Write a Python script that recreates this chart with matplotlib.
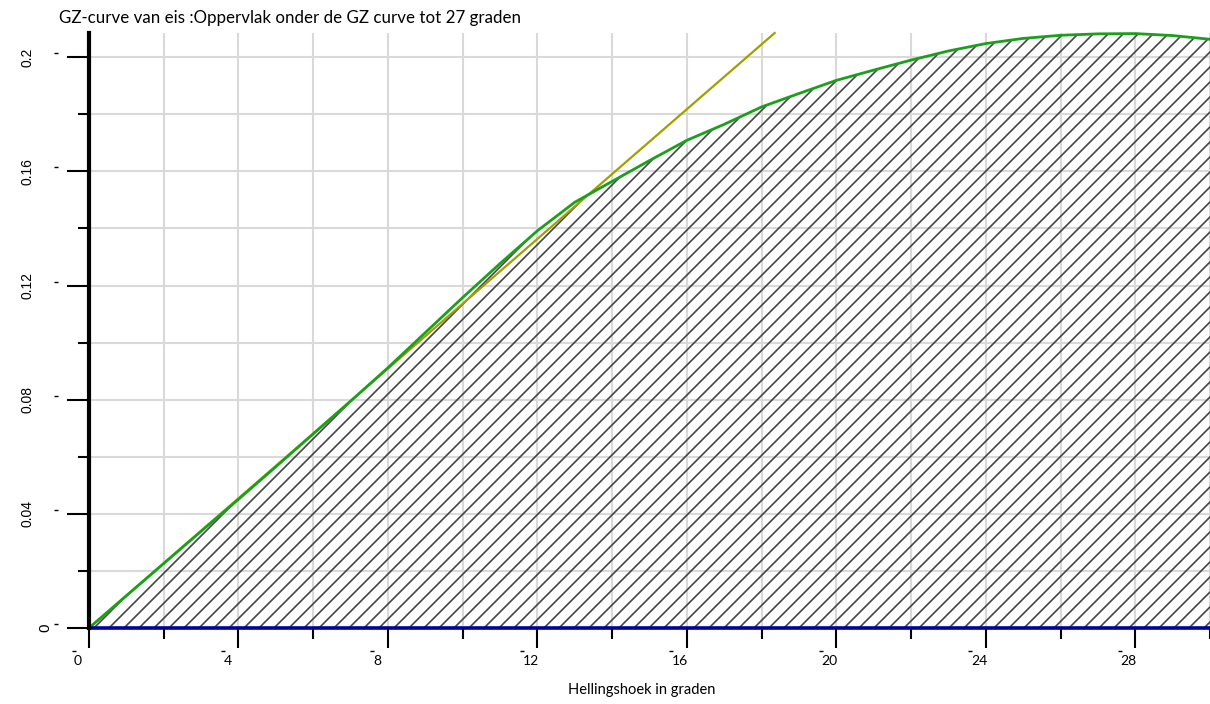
import numpy as np
import matplotlib.pyplot as plt
import matplotlib.transforms as mtransforms
from matplotlib.collections import LineCollection
from matplotlib.ticker import MultipleLocator

# GZ curve readings (heel angle in degrees, GZ in m)
hoek = [0, 1, 2, 3, 4, 5, 6, 7, 8, 9, 10, 11, 12, 13, 14, 15, 16, 17, 18, 19,
        20, 21, 22, 23, 24, 25, 26, 27, 28, 29, 30]
gz = [0.0, 0.0113, 0.0226, 0.0339, 0.0451, 0.0565, 0.0680, 0.0795, 0.0912,
      0.1035, 0.1158, 0.1277, 0.1392, 0.1492, 0.1565, 0.1638, 0.1709, 0.1765,
      0.1826, 0.1873, 0.1919, 0.1955, 0.1990, 0.2022, 0.2048, 0.2066, 0.2077,
      0.2082, 0.2083, 0.2076, 0.2063]

# tangent at origin (GM line)
raaklijn_x = [0, 18.35]
raaklijn_y = [0, 0.2085]

x_ticks = [0, 4, 8, 12, 16, 20, 24, 28]
y_ticks = [0, 0.04, 0.08, 0.12, 0.16, 0.2]
y_labels = ['0', '0.04', '0.08', '0.12', '0.16', '0.2']

plt.rcParams['font.family'] = ['Lato', 'DejaVu Sans']

W, H = 1210, 704
fig = plt.figure(figsize=(W / 100, H / 100), dpi=100)
ax = fig.add_axes([89 / W, 76 / H, 1 - 89 / W, 595 / H])

ax.set_xlim(0, 30)
ax.set_ylim(0, 0.2085)

# grid
ax.xaxis.set_minor_locator(MultipleLocator(2))
ax.yaxis.set_minor_locator(MultipleLocator(0.02))
ax.grid(True, which='both', color='#d9d9d9', linewidth=1.5, zorder=0)
ax.set_axisbelow(True)

# area under the curve, hatched by hand (45 degree lines, ~15 px apart)
vlak = ax.fill_between(hoek, gz, 0, facecolor='none', linewidth=0, zorder=1)
aw, ah = 1121.0, 595.0
segs = []
for px in np.arange(-ah, aw + 15, 15):
    segs.append([(px / aw, 0), ((px + ah) / aw, 1)])
arcering = LineCollection(segs, colors='#454545', linewidths=1.2,
                          transform=ax.transAxes, zorder=2)
ax.add_collection(arcering)
arcering.set_clip_path(vlak.get_paths()[0], vlak.get_transform())

ax.plot(raaklijn_x, raaklijn_y, color='#a0a000', linewidth=1.6, zorder=3,
        clip_on=False)
ax.plot(hoek, gz, color='#1aa01a', linewidth=2, zorder=4, clip_on=False)
ax.axhline(0, color='#0000a0', linewidth=2.6, zorder=5, clip_on=False)

for s in ['top', 'right', 'bottom']:
    ax.spines[s].set_visible(False)
ax.spines['left'].set_linewidth(3)
ax.spines['left'].set_zorder(6)

ax.set_xticks(x_ticks)
ax.set_xticklabels([str(t) for t in x_ticks], ha='left')
ax.set_yticks(y_ticks)
ax.set_yticklabels(y_labels, rotation=90, va='center', ha='center',
                   family=['Liberation Sans', 'DejaVu Sans'])

ax.tick_params(axis='x', which='major', length=14.5, width=1.5, pad=5, labelsize=10)
ax.tick_params(axis='x', which='minor', length=8, width=1.5)
ax.tick_params(axis='y', which='major', length=16, width=1.5, pad=28, labelsize=10)
ax.tick_params(axis='y', which='minor', length=8, width=1.5)

# label positions as in the original
dx = mtransforms.ScaledTranslation(-0.15, 0, fig.dpi_scale_trans)
for lab in ax.get_xticklabels():
    lab.set_transform(lab.get_transform() + dx)
ylabs = ax.get_yticklabels()
ylabs[0].set_transform(ylabs[0].get_transform() +
                       mtransforms.ScaledTranslation(0.17, 0, fig.dpi_scale_trans))
ylabs[0].set_fontsize(11)

# small dash marks next to the labels
for t in x_ticks:
    ax.plot([t], [0], marker='_', markersize=3, color='black', clip_on=False,
            transform=ax.transData + mtransforms.ScaledTranslation(-0.155, -0.23, fig.dpi_scale_trans))
for t in y_ticks:
    ax.plot([0], [t], marker='_', markersize=3, color='black', clip_on=False,
            transform=ax.transData + mtransforms.ScaledTranslation(-0.33, 0.04, fig.dpi_scale_trans))

fig.text(59 / W, 1 - 18 / H, 'GZ-curve van eis :Oppervlak onder de GZ curve tot 27 graden',
         fontsize=12.2, ha='left', va='center')
fig.text(568 / W, 1 - 690 / H, 'Hellingshoek in graden', fontsize=10.5,
         ha='left', va='center')

fig.savefig('out.png', dpi=100)
